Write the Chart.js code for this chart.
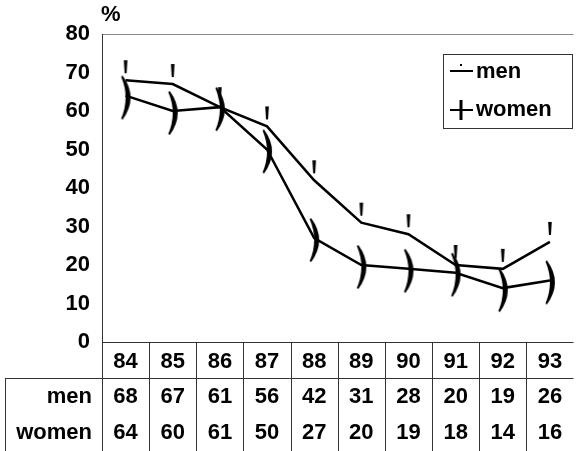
<!DOCTYPE html>
<html>
<head>
<meta charset="utf-8">
<script src="https://cdn.jsdelivr.net/npm/chart.js@4"></script>
<style>
  html, body { margin: 0; padding: 0; background: #fff; }
</style>
</head>
<body>
<canvas id="chart" width="582" height="451"></canvas>
<script>
// data
const years = ['84', '85', '86', '87', '88', '89', '90', '91', '92', '93'];
const menValues = [68, 67, 61, 56, 42, 31, 28, 20, 19, 26];
const womenValues = [64, 60, 61, 50, 27, 20, 19, 18, 14, 16];
const seriesNames = ['men', 'women'];
const yMin = 0, yMax = 80, yStep = 10;

const FAMILY = '"Liberation Sans", Arial, sans-serif';
const FONT = 'bold 22px ' + FAMILY;

// small tick above the point, like the old excel marker
function menMarker() {
  const c = document.createElement('canvas');
  c.width = 8; c.height = 44;
  const g = c.getContext('2d');
  g.fillStyle = '#000';
  g.beginPath();
  g.moveTo(2.2, 2); g.lineTo(5.8, 2); g.lineTo(5, 15); g.lineTo(3, 15);
  g.closePath();
  g.fill();
  return c;
}

// ")" shaped marker
function womenMarker() {
  const c = document.createElement('canvas');
  c.width = 24; c.height = 56;
  const g = c.getContext('2d');
  g.fillStyle = '#000';
  g.beginPath();
  g.moveTo(9, 8);
  g.quadraticCurveTo(25, 30, 9, 52);
  g.lineTo(7.5, 51);
  g.quadraticCurveTo(16.5, 30, 7.5, 9);
  g.closePath();
  g.fill();
  return c;
}

// table, frame and legend drawn on top
const tablePlugin = {
  id: 'tablePlugin',
  afterDraw(chart) {
    const ctx = chart.ctx;
    const area = chart.chartArea;
    const x = chart.scales.x;
    const step = x.getPixelForValue(1) - x.getPixelForValue(0);
    const rowTop = 378;
    const H = chart.height;

    ctx.save();
    // plot frame
    ctx.lineWidth = 1;
    ctx.strokeStyle = '#888';
    ctx.beginPath();
    ctx.moveTo(area.left, area.top + 0.5); ctx.lineTo(area.right, area.top + 0.5);
    ctx.stroke();

    ctx.strokeStyle = '#333';
    ctx.beginPath();
    ctx.moveTo(area.left + 0.5, area.top); ctx.lineTo(area.left + 0.5, H);
    ctx.moveTo(area.left, area.bottom + 0.5); ctx.lineTo(area.right, area.bottom + 0.5);
    ctx.moveTo(5, rowTop + 0.5); ctx.lineTo(area.right, rowTop + 0.5);
    ctx.moveTo(5.5, rowTop); ctx.lineTo(5.5, H);
    for (let i = 1; i < years.length; i++) {
      const px = Math.round(x.getPixelForValue(i) - step / 2) + 0.5;
      ctx.moveTo(px, area.bottom); ctx.lineTo(px, H);
    }
    ctx.stroke();

    // table rows
    ctx.fillStyle = '#000';
    ctx.font = FONT;
    ctx.textBaseline = 'middle';
    const rows = [[seriesNames[0], menValues, 397], [seriesNames[1], womenValues, 433]];
    rows.forEach(([name, vals, y]) => {
      ctx.textAlign = 'right';
      ctx.fillText(name, 92, y);
      ctx.textAlign = 'center';
      vals.forEach((v, i) => ctx.fillText(String(v), x.getPixelForValue(i), y));
    });

    // unit label
    ctx.textAlign = 'left';
    ctx.fillText('%', 101, 15);

    // legend
    ctx.strokeStyle = '#333';
    ctx.lineWidth = 1;
    ctx.strokeRect(443.5, 54.5, 129, 74);
    ctx.strokeStyle = '#000';
    ctx.lineWidth = 2;
    ctx.beginPath();
    ctx.moveTo(450, 71); ctx.lineTo(473, 71);
    ctx.moveTo(450, 110); ctx.lineTo(473, 110);
    ctx.stroke();
    ctx.fillRect(460, 64, 2, 2);
    ctx.lineWidth = 3;
    ctx.beginPath();
    ctx.moveTo(461, 100); ctx.lineTo(461, 120);
    ctx.stroke();
    ctx.fillText(seriesNames[0], 476, 72);
    ctx.fillText(seriesNames[1], 476, 110);
    ctx.restore();
  }
};

const tickFont = { family: FAMILY, size: 22, weight: 'bold' };

new Chart(document.getElementById('chart'), {
  type: 'line',
  data: {
    labels: years,
    datasets: [
      {
        label: seriesNames[0],
        data: menValues,
        borderColor: '#000',
        borderWidth: 2.5,
        tension: 0,
        pointStyle: menMarker(),
        pointRadius: 6
      },
      {
        label: seriesNames[1],
        data: womenValues,
        borderColor: '#000',
        borderWidth: 2.5,
        tension: 0,
        pointStyle: womenMarker(),
        pointRadius: 6
      }
    ]
  },
  options: {
    responsive: false,
    animation: false,
    devicePixelRatio: 1,
    layout: { padding: { top: 34, right: 0, left: 0, bottom: 0 } },
    plugins: {
      legend: { display: false },
      tooltip: { enabled: false }
    },
    scales: {
      x: {
        offset: true,
        grid: { display: false, drawTicks: false },
        border: { display: false },
        ticks: { color: '#000', font: tickFont, padding: 7, maxRotation: 0 },
        afterFit(scale) { scale.height = 109; }
      },
      y: {
        min: yMin,
        max: yMax,
        grid: { display: false, drawTicks: false },
        border: { display: false },
        ticks: { stepSize: yStep, color: '#000', font: tickFont, padding: 12 },
        afterFit(scale) { scale.width = 102; }
      }
    }
  },
  plugins: [tablePlugin]
});
</script>
</body>
</html>
